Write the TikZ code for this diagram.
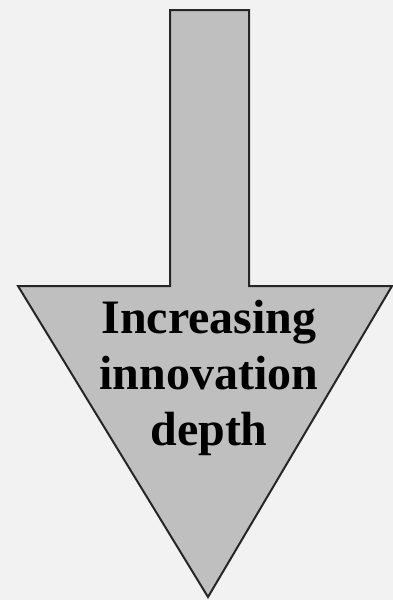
\documentclass[tikz,border=0pt]{standalone}
\usepackage{fontspec}
\setmainfont{Liberation Serif}
\usetikzlibrary{arrows.meta}

\begin{document}
\begin{tikzpicture}[
    x=1pt,y=-1pt,
    arrowshape/.style={fill=gray!50,draw=black!85,line width=2pt,line join=miter},
    label/.style={font=\bfseries\fontsize{48}{56}\selectfont,align=center,inner sep=0pt},
]
% background
\fill[gray!10] (0,0) rectangle (393,600);
\useasboundingbox (0,0) rectangle (393,600);

% down arrow
\draw[arrowshape] (170,10) -- (249,10) -- (249,286) -- (392,286)
    -- (208,597) -- (18,286) -- (170,286) -- cycle;

% caption inside the head
\node[label] (depth) at (209,378) {Increasing\\innovation\\depth};
\end{tikzpicture}
\end{document}
